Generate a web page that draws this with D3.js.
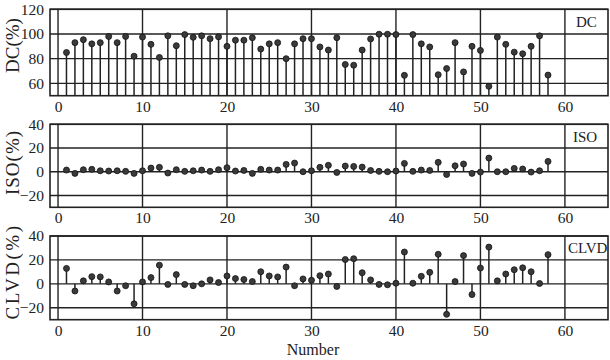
<!DOCTYPE html>
<html><head><meta charset="utf-8">
<script src="https://cdn.jsdelivr.net/npm/d3@7/dist/d3.min.js"></script>
<style>body{margin:0;background:#fff}svg{display:block}text{font-family:"Liberation Serif","DejaVu Serif",serif;fill:#222}</style>
</head><body><svg id="c" width="610" height="360"></svg>
<script>
const numbers = d3.range(1, 59);
const dcValues = [85,93,95.4,92,93,98,93,98,82,97.5,91.6,81,98.5,90.5,99.5,97.3,98.5,96.2,97.7,90,95,95,97,87.8,92,93,80,92,96.2,96.2,89.5,87,97,75.3,74.7,87,96,99.8,99.8,99.5,66.5,99.5,92,89.5,67,72,93,69.3,90,86.7,57.6,97.5,91.6,85.3,84,90,98.5,66.7];
const isoValues = [1.4,-1.4,1.7,2,0.8,0.6,0.8,0.3,-1.4,0.8,3.1,3.7,-1.1,1.7,0.3,0.8,1.4,0.3,1.7,3.4,0.6,1.1,-1.4,2,1.4,1.4,6.2,7.3,0,0.8,3.7,5.4,-0.6,4.8,4.5,3.9,1.1,0.3,0,0.6,7,0.3,1.4,1.1,7.9,-2.3,5,6.5,-1.4,-0.3,11.5,0,0,2.8,2.3,-0.3,0.8,8.7];
const clvdValues = [12.9,-6,2.5,6,5.8,1.6,-6,-1.6,-16.7,1.6,5.2,15.6,-0.5,7.7,-0.5,-1.6,0,3.3,1.1,6.6,4.4,3.6,1.9,10.1,6.6,5.8,14,-1.6,4.1,3,6.8,8.2,-2.2,20.3,21,9.3,3.3,-0.5,-0.8,0.5,26.6,0.5,6.3,9.6,24.7,-25.5,1.9,23.6,-9,13.2,30.7,2.5,8.2,11.8,13.4,10.1,0.3,24.4];
const xTicks = [0,10,20,30,40,50,60];
const dcTicks = [60,80,100,120];
const isoTicks = [-20,0,20,40];
const clvdTicks = [-20,0,20,40];

const svg = d3.select("#c");
const x = d3.scaleLinear().domain([-0.95, 65.1]).range([50, 608]);
const ink = "#222";

const panels = [
  {name:"DC", ylab:"DC(%)", vals:dcValues, ticks:dcTicks, dom:[50,120], top:9.3, bot:95.7, base:50, tag:[576,27], labY:45.5, ls:0},
  {name:"ISO", ylab:"ISO(%)", vals:isoValues, ticks:isoTicks, dom:[-30,40], top:124.3, bot:207.3, base:0, tag:[573,142], labY:162.5, ls:1},
  {name:"CLVD", ylab:"CLVD(%)", vals:clvdValues, ticks:clvdTicks, dom:[-30,40], top:236, bot:319.7, base:0, tag:[568,253], labY:271.5, ls:2.5}
];

panels.forEach(p => {
  const y = d3.scaleLinear().domain(p.dom).range([p.bot, p.top]);
  const g = svg.append("g");
  g.selectAll(".hg").data(p.ticks).join("line")
    .attr("x1", x.range()[0]).attr("x2", x.range()[1])
    .attr("y1", d=>y(d)).attr("y2", d=>y(d))
    .attr("stroke", ink).attr("stroke-width", 1.4);
  g.selectAll(".vg").data(xTicks).join("line")
    .attr("x1", d=>x(d)).attr("x2", d=>x(d))
    .attr("y1", p.top).attr("y2", p.bot)
    .attr("stroke", ink).attr("stroke-width", 1.4);
  g.append("rect").attr("x", x.range()[0]).attr("y", p.top)
    .attr("width", x.range()[1]-x.range()[0]).attr("height", p.bot-p.top)
    .attr("fill","none").attr("stroke", ink).attr("stroke-width", 1.6);
  const ya = d3.axisLeft(y).tickValues(p.ticks).tickSize(0).tickPadding(6).tickFormat(d3.format("d"));
  const yg = g.append("g").attr("transform", `translate(${x.range()[0]},0)`).call(ya);
  yg.select(".domain").remove();
  yg.selectAll("text").attr("font-size", 15.5).attr("fill", ink).style("font-family",'"Liberation Serif",serif');
  const xa = d3.axisBottom(x).tickValues(xTicks).tickSize(0).tickPadding(5);
  const xg = g.append("g").attr("transform", `translate(0,${p.bot})`).call(xa);
  xg.select(".domain").remove();
  xg.selectAll("text").attr("font-size", 15.5).attr("fill", ink).style("font-family",'"Liberation Serif",serif');
  g.selectAll(".stem").data(p.vals).join("line")
    .attr("x1",(d,i)=>x(numbers[i])).attr("x2",(d,i)=>x(numbers[i]))
    .attr("y1", y(p.base)).attr("y2", d=>y(d))
    .attr("stroke", ink).attr("stroke-width", 1.5);
  g.selectAll(".pt").data(p.vals).join("circle")
    .attr("cx",(d,i)=>x(numbers[i])).attr("cy", d=>y(d)).attr("r", 3)
    .attr("fill", "#3a3a3a").attr("stroke", "#111").attr("stroke-width", 0.8);
  g.append("text").attr("x", p.tag[0]).attr("y", p.tag[1]).attr("font-size", 15).text(p.name);
  g.append("text").attr("transform", `translate(19,${p.labY}) rotate(-90)`)
    .attr("text-anchor","middle").attr("font-size", 19)
    .attr("letter-spacing", p.ls).text(p.ylab);
});

svg.append("text").attr("x", 313).attr("y", 355).attr("text-anchor","middle")
  .attr("font-size", 16).text("Number");
</script></body></html>
